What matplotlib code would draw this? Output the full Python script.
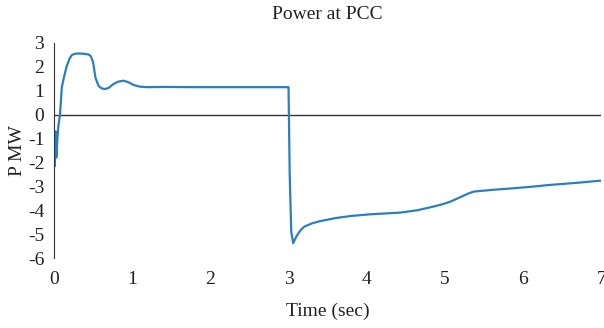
import matplotlib
matplotlib.use("Agg")
import matplotlib.pyplot as plt

plt.rcParams['font.family'] = ['Liberation Serif', 'DejaVu Serif']
plt.rcParams['axes.unicode_minus'] = False

time_s = [0.0, 0.006, 0.012, 0.02, 0.03, 0.04, 0.055, 0.077, 0.1, 0.13, 0.16, 0.2, 0.23, 0.27, 0.32,
          0.38, 0.44, 0.47, 0.5, 0.53, 0.57, 0.61, 0.65, 0.7, 0.76, 0.82, 0.89, 0.95,
          1.02, 1.1, 1.2, 1.4, 1.8, 2.2, 2.6, 3.0, 3.015, 3.035, 3.06, 3.1, 3.15, 3.2,
          3.3, 3.4, 3.6, 3.8, 4.05, 4.43, 4.65, 4.85, 4.97, 5.07, 5.2, 5.3, 5.37, 5.6, 5.88,
          6.1, 6.35, 6.7, 7.0]
power_mw = [-1.5, -2.17, -1.2, -0.7, -1.8, -1.2, -0.5, 0.0, 1.15, 1.6, 2.0, 2.35, 2.5, 2.55, 2.56,
            2.55, 2.52, 2.45, 2.2, 1.55, 1.2, 1.1, 1.07, 1.12, 1.28, 1.38, 1.42, 1.36,
            1.24, 1.17, 1.15, 1.16, 1.15, 1.15, 1.15, 1.15, -2.5, -4.9, -5.38, -5.1, -4.85, -4.69,
            -4.55, -4.46, -4.33, -4.24, -4.17, -4.1, -4.0, -3.85, -3.75, -3.64, -3.45, -3.3, -3.22, -3.15, -3.08,
            -3.02, -2.94, -2.85, -2.76]
x_ticks = [0, 1, 2, 3, 4, 5, 6, 7]
y_ticks = [3, 2, 1, 0, -1, -2, -3, -4, -5, -6]

fig = plt.figure(figsize=(6.04, 3.28), dpi=100)
ax = fig.add_axes([0.0894, 0.2134, 0.906, 0.6556])
ax.plot(time_s, power_mw, color='#2a7fc0', lw=1.6)
ax.axhline(0, color='#333333', lw=1.0, zorder=1)
ax.set_xlim(0, 7)
ax.set_ylim(-6, 3)
ax.set_xticks(x_ticks)
ax.set_yticks(y_ticks)
for s in ['top', 'right', 'bottom']:
    ax.spines[s].set_visible(False)
ax.spines['left'].set_color('#333333')
ax.tick_params(length=0, labelsize=14, colors='#222222')
ax.tick_params(axis='x', pad=9)
ax.tick_params(axis='y', pad=7)
ax.set_title('Power at PCC', fontsize=14, pad=17, color='#222222')
ax.set_xlabel('Time (sec)', fontsize=14, labelpad=11, color='#222222')
ax.set_ylabel('P MW', fontsize=14, labelpad=1, color='#222222')
fig.savefig('out.png', dpi=100)
